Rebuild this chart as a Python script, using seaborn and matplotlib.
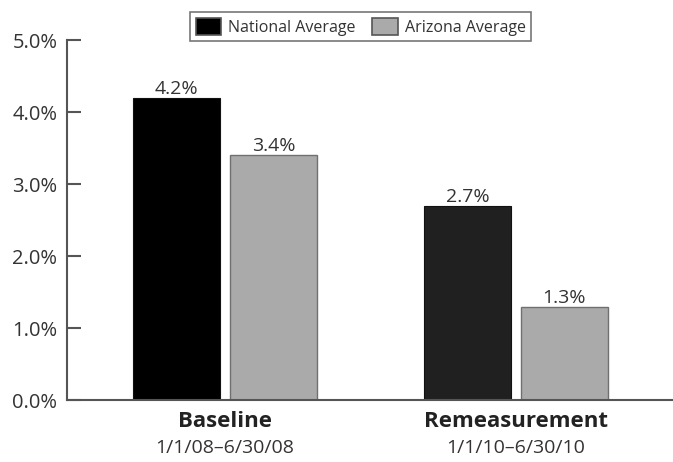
import pandas as pd
import seaborn as sns
import matplotlib.pyplot as plt
from matplotlib.ticker import FuncFormatter

# chart values
periods = ['Baseline', 'Remeasurement']
period_dates = ['1/1/08\u20136/30/08', '1/1/10\u20136/30/10']
series_names = ['National Average', 'Arizona Average']
national = [4.2, 2.7]
arizona = [3.4, 1.3]
y_ticks = [0.0, 1.0, 2.0, 3.0, 4.0, 5.0]

df = pd.DataFrame({
    'period': periods * 2,
    'series': [series_names[0]] * 2 + [series_names[1]] * 2,
    'value': national + arizona,
})

sns.set_style('white')
plt.rcParams['font.family'] = ['Open Sans', 'DejaVu Sans']

fig = plt.figure(figsize=(6.73, 4.62), dpi=100)
ax = fig.add_axes([0.0996, 0.134, 0.9004, 0.779])

palette = {series_names[0]: '#000000', series_names[1]: '#aaaaaa'}
sns.barplot(data=df, x='period', y='value', hue='series', palette=palette,
            order=periods, hue_order=series_names, width=0.667, gap=0.1,
            saturation=1, ax=ax, legend=True)

# slightly lighter black for the second national bar, grey edges
ax.containers[0][1].set_facecolor('#202020')
for bar in ax.containers[0]:
    bar.set_edgecolor('#111111')
    bar.set_linewidth(0.8)
for bar in ax.containers[1]:
    bar.set_edgecolor('#707070')
    bar.set_linewidth(1.0)

for cont in ax.containers:
    ax.bar_label(cont, fmt='%.1f%%', padding=0, fontsize=14, color='#333333')

ax.set_ylim(0, 5.0)
ax.set_xlim(-0.543, 1.54)
ax.set_yticks(y_ticks)
ax.yaxis.set_major_formatter(FuncFormatter(lambda v, p: f'{v:.1f}%'))
ax.tick_params(axis='y', direction='in', length=10, width=1.5, color='#555555',
               labelsize=14.5, labelcolor='#333333', pad=7, left=True)
ax.tick_params(axis='x', length=0, labelsize=16, labelcolor='#222222', pad=8)
for lab in ax.get_xticklabels():
    lab.set_fontweight('bold')
ax.set_xlabel('')
ax.set_ylabel('')

for i, d in enumerate(period_dates):
    ax.text(i, -0.108, d, transform=ax.get_xaxis_transform(), ha='center',
            va='top', fontsize=14, color='#333333')

sns.despine(ax=ax, top=True, right=True)
for side in ('left', 'bottom'):
    ax.spines[side].set_color('#555555')
    ax.spines[side].set_linewidth(1.5)

ax.legend(loc='center', bbox_to_anchor=(0.536, 0.942),
          bbox_transform=fig.transFigure, ncol=2, frameon=True, fancybox=False,
          edgecolor='#555555', fontsize=11.5, handlelength=1.6, handleheight=1.25,
          columnspacing=1.0, handletextpad=0.45, borderpad=0.35,
          labelcolor='#333333', title=None)
ax.get_legend().get_frame().set_linewidth(1.2)
for h in ax.get_legend().legend_handles:
    h.set_edgecolor('#555555')
    h.set_linewidth(1.2)

fig.savefig('out.png', dpi=100)
